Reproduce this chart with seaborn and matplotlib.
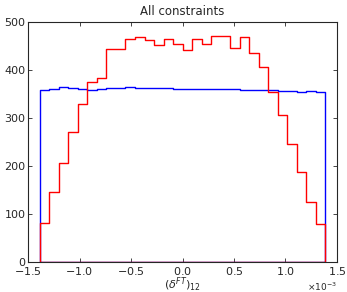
import numpy as np
import pandas as pd
import seaborn as sns
import matplotlib
matplotlib.use("Agg")
import matplotlib.pyplot as plt

# Histogrammwerte (30 Bins)
bin_lo, bin_hi, n_bins = -1.385e-3, 1.385e-3, 30

counts_red = [82, 146, 206, 270, 328, 374, 383, 443, 443, 465,
              469, 463, 451, 465, 455, 441, 465, 453, 471, 471,
              445, 468, 435, 406, 353, 307, 245, 187, 125, 79]

counts_blue = [359, 361, 364, 363, 361, 359, 361, 362, 363, 364,
               363, 362, 362, 362, 361, 361, 361, 361, 361, 360,
               360, 359, 359, 358, 358, 357, 356, 355, 356, 353]

title = "All constraints"
xlabel = r"$(\delta^{FT})_{12}$"
yticks = [0, 100, 200, 300, 400, 500]
xticks = [-1.5e-3, -1.0e-3, -0.5e-3, 0.0, 0.5e-3, 1.0e-3, 1.5e-3]

edges = np.linspace(bin_lo, bin_hi, n_bins + 1)
centers = (edges[:-1] + edges[1:]) / 2

sns.set_style("ticks")
plt.rcParams.update({
    "xtick.direction": "in", "ytick.direction": "in",
    "xtick.top": True, "ytick.right": True,
    "font.size": 8,
})

fig = plt.figure(figsize=(3.47, 2.92), dpi=100)
ax = fig.add_axes([0.081, 0.103, 0.890, 0.822])

for werte, farbe in [(counts_blue, "blue"), (counts_red, "red")]:
    df = pd.DataFrame({"x": centers, "w": werte})
    sns.histplot(data=df, x="x", weights="w", bins=n_bins,
                 binrange=(bin_lo, bin_hi), element="step",
                 fill=True, facecolor="none", color=farbe, linewidth=1,
                 ax=ax)

ax.set_xlim(-1.5e-3, 1.5e-3)
ax.set_ylim(0, 500)
ax.set_xticks(xticks)
ax.set_yticks(yticks)
ax.ticklabel_format(axis="x", style="sci", scilimits=(0, 0), useMathText=True)
ax.tick_params(labelsize=8, length=3, width=0.6, pad=2)
ax.xaxis.get_offset_text().set_fontsize(6.5)
ax.set_ylabel("")
ax.set_xlabel(xlabel, fontsize=8, labelpad=-1)
ax.set_title(title, fontsize=8.5, pad=5)
for s in ax.spines.values():
    s.set_linewidth(0.8)
    s.set_zorder(5)

fig.savefig("out.png", dpi=100, facecolor="white")
